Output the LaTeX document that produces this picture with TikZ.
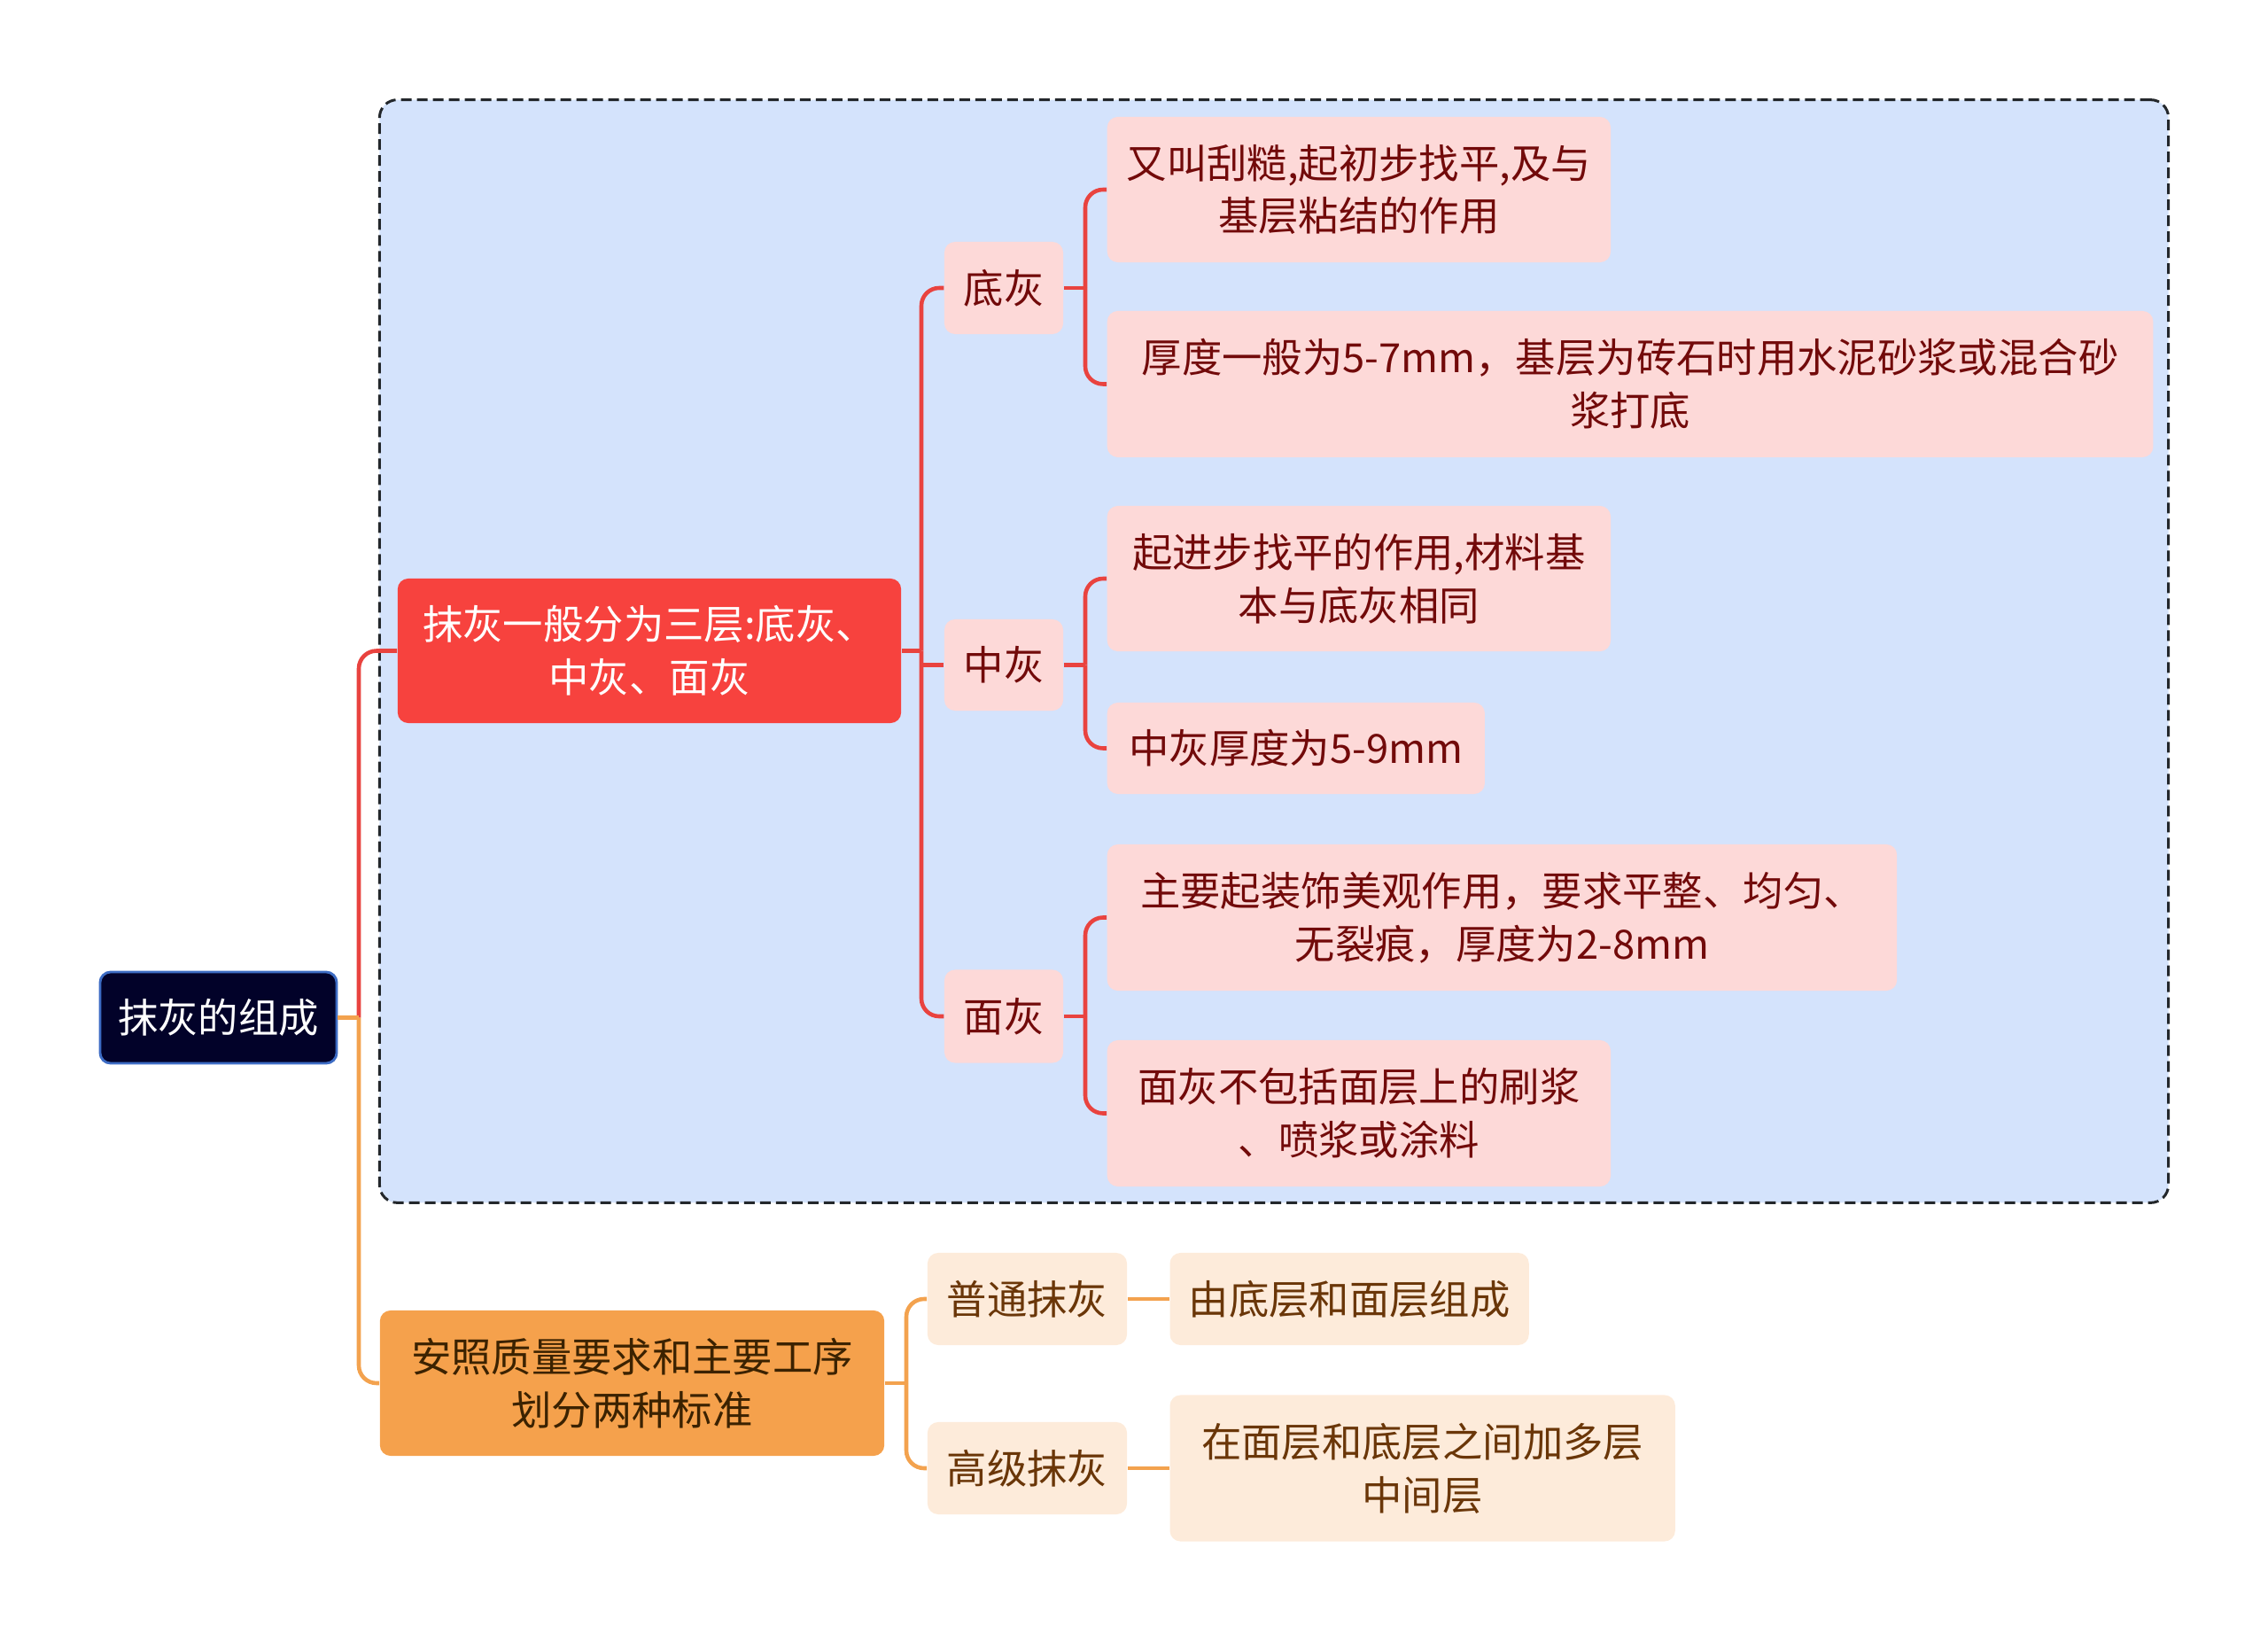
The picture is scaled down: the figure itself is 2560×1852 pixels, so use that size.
\documentclass[tikz,border=0pt]{standalone}
\usepackage{fontspec}
\setmainfont{Noto Sans CJK SC}
\usetikzlibrary{positioning}

\definecolor{rootnavy}{HTML}{020229}
\definecolor{rootblue}{HTML}{3D6CC4}
\definecolor{layerred}{HTML}{F7423E}
\definecolor{leafpink}{HTML}{FDD9D8}
\definecolor{leaftext}{HTML}{720A0A}
\definecolor{stdorange}{HTML}{F5A14C}
\definecolor{stdtext}{HTML}{3B2200}
\definecolor{leafcream}{HTML}{FDEBDA}
\definecolor{creamtext}{HTML}{6A3608}
\definecolor{groupblue}{HTML}{D4E3FC}
\definecolor{groupline}{HTML}{23272B}
\definecolor{linered}{HTML}{E9433F}
\definecolor{lineorange}{HTML}{F3A24E}

\begin{document}
\begin{tikzpicture}[
  x=0.01cm, y=-0.01cm,
  font=\fontsize{12.9pt}{17pt}\selectfont,
  box/.style={rounded corners=0.12cm, align=center, inner sep=0pt},
  rootbox/.style={box, fill=rootnavy, draw=rootblue, line width=0.8pt, text=white},
  redbox/.style={box, fill=layerred, text=white},
  pinkbox/.style={box, fill=leafpink, text=leaftext},
  orangebox/.style={box, fill=stdorange, text=stdtext},
  creambox/.style={box, fill=leafcream, text=creamtext},
  groupbox/.style={draw=groupline, fill=groupblue, dash pattern=on 0.12cm off 0.06cm, line width=0.85pt, rounded corners=0.2cm},
  redarr/.style={draw=linered, line width=1.3pt, rounded corners=0.2cm},
  orangearr/.style={draw=lineorange, line width=1.3pt, rounded corners=0.2cm}
]
\useasboundingbox (0,0) rectangle (2560,1852);

% dashed group behind the three layers
\node[groupbox, minimum width=20.18cm, minimum height=12.44cm] (grp) at (1438,735) {};

\node[rootbox, minimum width=2.67cm, minimum height=1.03cm] (root) at (246.5,1148.5) {抹灰的组成};

% three layers
\node[redbox, minimum width=5.68cm, minimum height=1.63cm] (layers) at (733,734.5) {抹灰一般分为三层:底灰、\\中灰、面灰};
\node[pinkbox, minimum width=1.34cm, minimum height=1.04cm] (dh) at (1133,325) {底灰};
\node[pinkbox, minimum width=1.34cm, minimum height=1.03cm] (zh) at (1133,750.5) {中灰};
\node[pinkbox, minimum width=1.34cm, minimum height=1.05cm] (mh) at (1133,1147) {面灰};

\node[pinkbox, anchor=west, minimum width=5.68cm, minimum height=1.64cm] (dha) at (1249,214) {又叫刮糙,起初步找平,及与\\基层粘结的作用};
\node[pinkbox, anchor=west, minimum width=11.8cm, minimum height=1.65cm] (dhb) at (1249,433.5) {厚度一般为5-7mm，基层为砖石时用水泥砂浆或混合砂\\浆打底};
\node[pinkbox, anchor=west, minimum width=5.68cm, minimum height=1.64cm] (zha) at (1249,653) {起进步找平的作用,材料基\\本与底灰相同};
\node[pinkbox, anchor=west, minimum width=4.26cm, minimum height=1.03cm] (zhb) at (1249,844.5) {中灰厚度为5-9mm};
\node[pinkbox, anchor=west, minimum width=8.91cm, minimum height=1.65cm] (mha) at (1249,1035.5) {主要起装饰美观作用，要求平整、均匀、\\无裂痕，厚度为2-8mm};
\node[pinkbox, anchor=west, minimum width=5.68cm, minimum height=1.65cm] (mhb) at (1249,1256.5) {面灰不包括面层上的刷浆\\、喷浆或涂料};

% two standards
\node[orangebox, minimum width=5.69cm, minimum height=1.64cm] (std) at (713.5,1561) {安照质量要求和主要工序\\划分两种标准};
\node[creambox, minimum width=2.25cm, minimum height=1.04cm] (pt) at (1159.5,1466) {普通抹灰};
\node[creambox, minimum width=2.25cm, minimum height=1.04cm] (gj) at (1159.5,1657) {高级抹灰};
\node[creambox, right=0.47cm of pt, minimum width=4.05cm, minimum height=1.04cm] (pta) {由底层和面层组成};
\node[creambox, right=0.47cm of gj, minimum width=5.7cm, minimum height=1.65cm] (gja) {在面层和底层之间加多层\\中间层};

% junctions
\coordinate (rj) at (405,1148.5);
\coordinate (lj) at (1040,734.5);
\coordinate (dj) at (1225,325);
\coordinate (zj) at (1225,750.5);
\coordinate (mj) at (1225,1147);
\coordinate (sj) at (1023,1561);

\draw[redarr] (rj) |- (layers.west);
\draw[orangearr] (rj) |- (std.west);
\draw[orangearr] (root.east) -- (rj);

\draw[redarr] (layers.east) -- (lj);
\draw[redarr] (lj) |- (dh.west);
\draw[redarr] (lj) |- (mh.west);
\draw[redarr] (lj |- zh.west) -- (zh.west);

\draw[redarr] (dh.east) -- (dj);
\draw[redarr] (dj) |- (dha.west);
\draw[redarr] (dj) |- (dhb.west);
\draw[redarr] (zh.east) -- (zj);
\draw[redarr] (zj) |- (zha.west);
\draw[redarr] (zj) |- (zhb.west);
\draw[redarr] (mh.east) -- (mj);
\draw[redarr] (mj) |- (mha.west);
\draw[redarr] (mj) |- (mhb.west);

\draw[orangearr] (std.east) -- (sj);
\draw[orangearr] (sj) |- (pt.west);
\draw[orangearr] (sj) |- (gj.west);
\draw[orangearr] (pt.east) -- (pta.west);
\draw[orangearr] (gj.east) -- (gja.west);
\end{tikzpicture}
\end{document}
